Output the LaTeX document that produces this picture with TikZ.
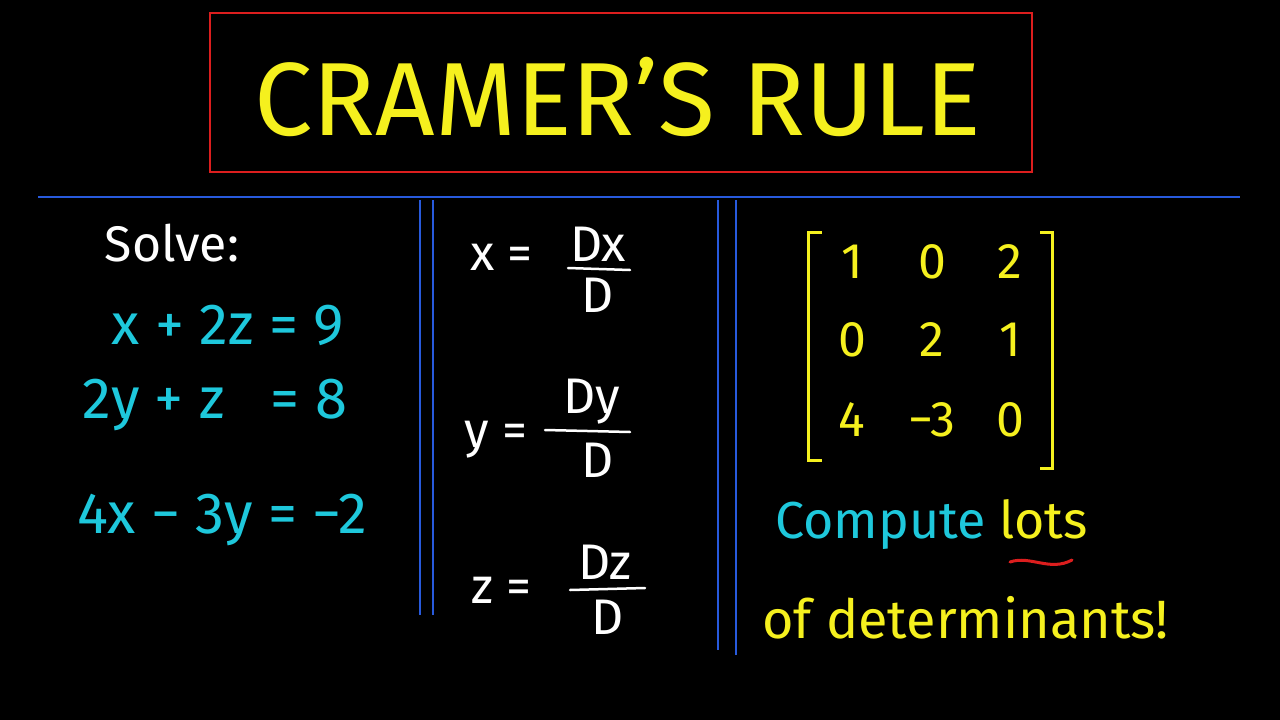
\documentclass[tikz,border=0pt]{standalone}
\usepackage{fontspec}
\setmainfont{Fira Sans}
\definecolor{yel}{RGB}{245,240,30}
\definecolor{cy}{RGB}{30,200,220}
\definecolor{bl}{RGB}{40,90,220}
\definecolor{rd}{RGB}{220,30,30}
\tikzset{
 eq/.style={text=cy,font=\fontsize{58}{60}\selectfont,inner sep=0},
 wt/.style={text=white,font=\fontsize{50}{52}\selectfont,inner sep=0},
 mat/.style={text=yel,font=\fontsize{50}{52}\selectfont,inner sep=0},
 vline/.style={draw=bl,line width=1.5pt},
 fr/.style={draw=white,line width=2.5pt,line cap=round}
}
\begin{document}
\begin{tikzpicture}[x=1pt,y=-1pt]
\fill[black] (0,0) rectangle (1280,720);
\useasboundingbox (0,0) rectangle (1280,720);
\draw[rd,line width=1.5pt] (210,13) rectangle (1032,172);
\node[text=yel,font=\fontsize{104}{104}\selectfont,inner sep=0] (title) at (618,97) {CRAMER'S RULE};
\coordinate (hl) at (38,197); \coordinate (hr) at (1240,197);
\draw[vline] (hl) -- (hr);
\draw[vline] (420,200) -- (420,615); \draw[vline] (433,200) -- (433,615);
\draw[vline] (718,200) -- (718,650); \draw[vline] (736,200) -- (736,655);
% left
\node[wt] (solve) at (172,243) {Solve:};
\node[eq] (e1) at (228,325) {x + 2z = 9};
\node[eq] (e2) at (215,405) {2y + z \ \ = 8};
\node[eq] (e3) at (222,520) {4x − 3y = −2};
% middle
\node[wt,anchor=east] (xl) at (533,257) {x =};
\node[wt,anchor=south] (xn) at (598,262) {Dx};
\node[wt,anchor=north] (xd) at (598,278) {D};
\draw[fr] (568,268) -- (630,270);
\node[wt,anchor=east] (yl) at (528,440) {y =};
\node[wt,anchor=south] (yn) at (592,424) {Dy};
\node[wt,anchor=north] (yd) at (598,443) {D};
\draw[fr] (545,430) -- (630,432);
\node[wt,anchor=east] (zl) at (532,590) {z =};
\node[wt,anchor=south] (zn) at (605,580) {Dz};
\node[wt,anchor=north] (zd) at (608,600) {D};
\draw[fr] (570,590) -- (645,588);
% matrix
\draw[yel,line width=3pt] (822,232) -- (808,232) -- (808,460) -- (822,460);
\draw[yel,line width=3pt] (1040,232) -- (1052,232) -- (1052,468) -- (1040,468);
\foreach \r/\y/\a/\b/\c in {1/262/1/0/2,2/340/0/2/1,3/420/4/−3/0}{
 \node[mat] (m\r a) at (852,\y) {\a};
 \node[mat] (m\r b) at (932,\y) {\b};
 \node[mat] (m\r c) at (1010,\y) {\c};
}
\node[eq,anchor=west,font=\fontsize{52}{54}\selectfont] (comp) at (775,525) {Compute \textcolor{yel}{lots}};
\draw[rd,line width=3pt,line cap=round] (1010,562) .. controls (1030,555) and (1050,572) .. (1072,560);
\node[mat,anchor=west,font=\fontsize{54}{56}\selectfont] (det) at (762,618) {of determinants!};
\end{tikzpicture}
\end{document}
